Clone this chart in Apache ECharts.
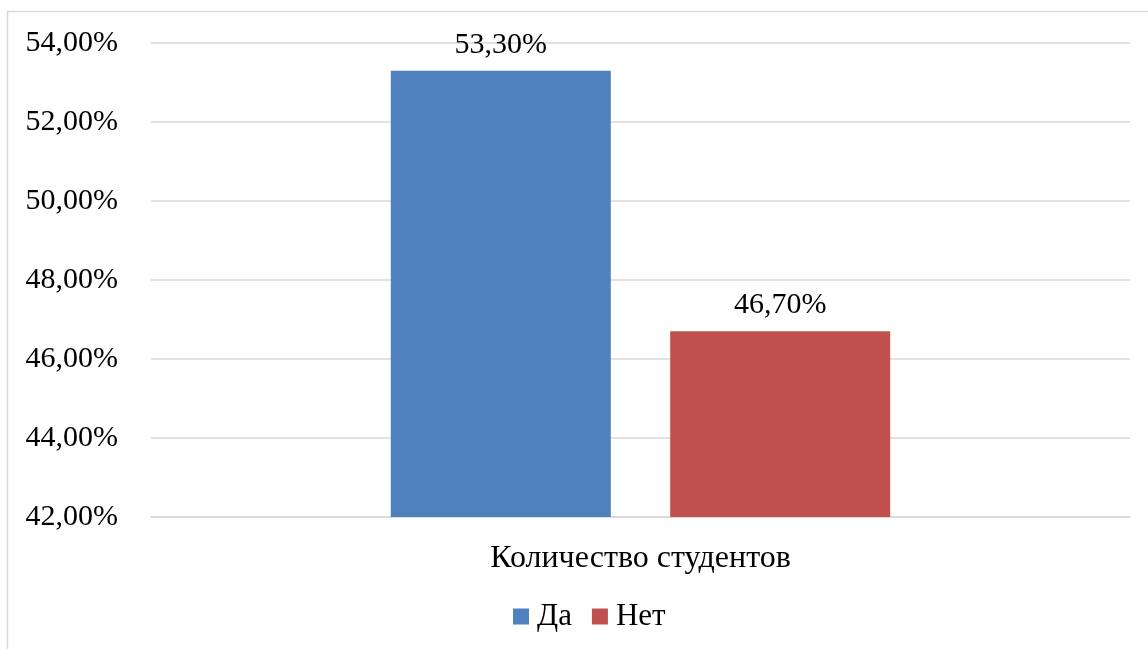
<!DOCTYPE html>
<html>
<head>
<meta charset="utf-8">
<script src="https://cdn.jsdelivr.net/npm/echarts@6/dist/echarts.min.js"></script>
<style>
html,body{margin:0;padding:0;background:#fff;}
#c{width:1148px;height:649px;}
</style>
</head>
<body>
<div id="c"></div>
<script>
const categories = ['Количество студентов'];
const seriesNames = ['Да', 'Нет'];
const daValues = [53.3];
const netValues = [46.7];
const yMin = 42, yMax = 54, yInterval = 2;

const FONT = '"Liberation Serif", "Times New Roman", serif';
const FS = 30;
function fmt(v, d) { return v.toFixed(d).replace('.', ',') + '%'; }

const chart = echarts.init(document.getElementById('c'));
chart.setOption({
  animation: false,
  backgroundColor: '#fff',
  graphic: [{
    type: 'rect', silent: true,
    shape: { x: 7.5, y: 11.5, width: 1300, height: 800 },
    style: { fill: 'none', stroke: '#d9d9d9', lineWidth: 1.5 }
  }],
  grid: { left: 151, right: 18, top: 43, bottom: 132 },
  legend: {
    data: seriesNames,
    bottom: 12, left: 508,
    itemWidth: 16, itemHeight: 16, itemGap: 20,
    icon: 'rect',
    textStyle: { fontFamily: FONT, fontSize: 31, color: '#000', padding: [0, 0, 0, 3] }
  },
  xAxis: {
    type: 'category', data: categories,
    axisLine: { show: true, lineStyle: { color: '#d9d9d9', width: 1.5 } },
    axisTick: { show: false },
    axisLabel: { fontFamily: FONT, fontSize: 32, color: '#000', margin: 26 }
  },
  yAxis: {
    type: 'value', min: yMin, max: yMax, interval: yInterval,
    axisLine: { show: false }, axisTick: { show: false },
    splitLine: { lineStyle: { color: '#d9d9d9', width: 1.5 } },
    axisLabel: { fontFamily: FONT, fontSize: FS, color: '#000', margin: 33, formatter: v => fmt(v, 2) }
  },
  series: [
    { name: seriesNames[0], type: 'bar', data: daValues, barWidth: 220, barGap: '27%',
      itemStyle: { color: '#4F81BD' },
      label: { show: true, position: 'top', distance: 11, fontFamily: FONT, fontSize: FS, color: '#000', formatter: p => fmt(p.value, 2) } },
    { name: seriesNames[1], type: 'bar', data: netValues, barWidth: 220,
      itemStyle: { color: '#C0504D' },
      label: { show: true, position: 'top', distance: 11, fontFamily: FONT, fontSize: FS, color: '#000', formatter: p => fmt(p.value, 2) } }
  ]
});
</script>
</body>
</html>
